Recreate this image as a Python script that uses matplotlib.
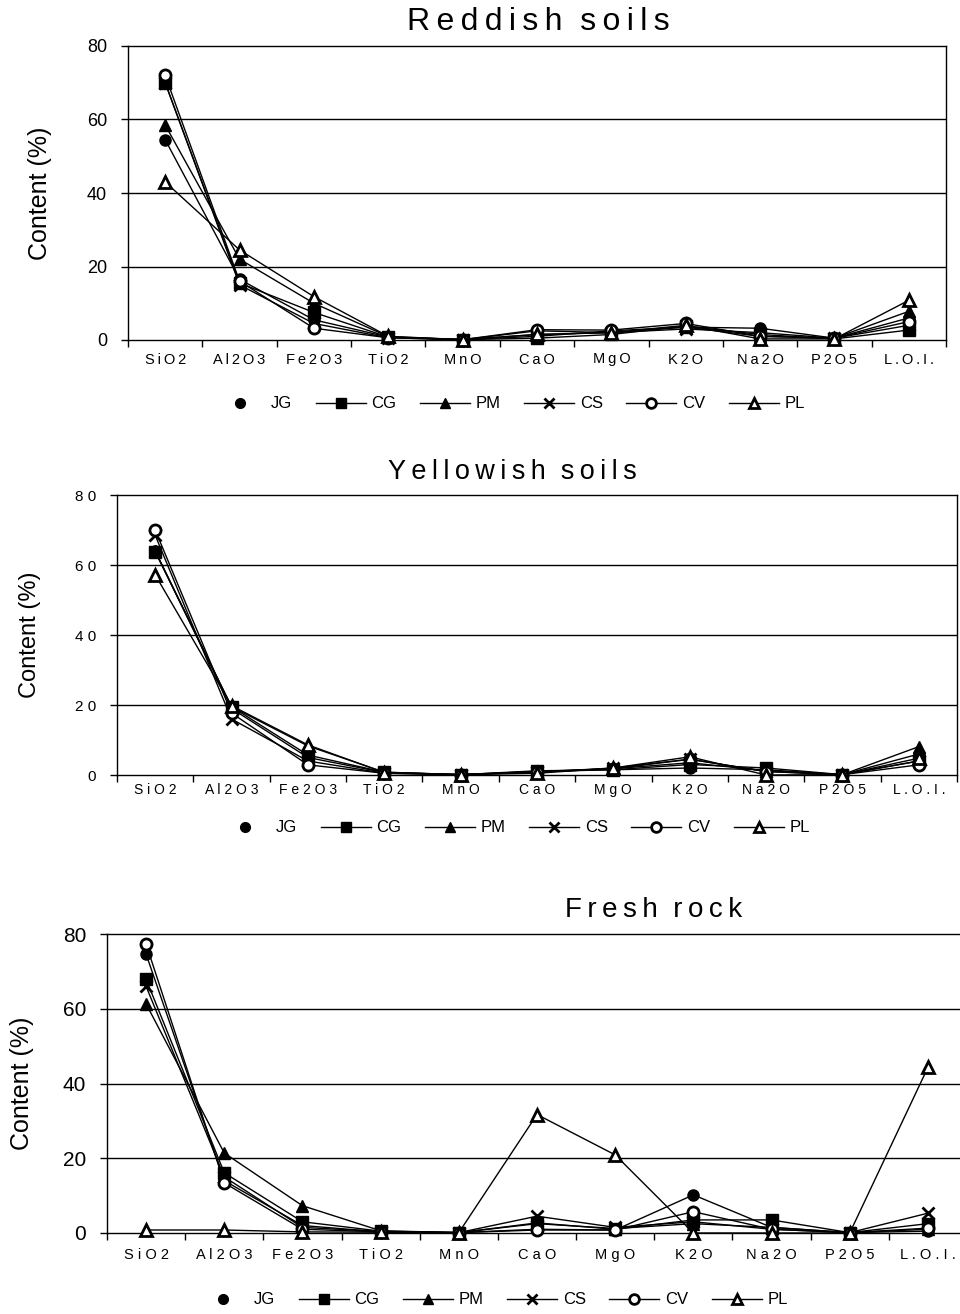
import matplotlib
matplotlib.use("Agg")
import matplotlib.pyplot as plt
from matplotlib.lines import Line2D
import numpy as np

plt.rcParams["font.family"] = ["Liberation Sans", "DejaVu Sans"]

# ---------------------------------------------------------------------------
# Datos (contenido en %)
# ---------------------------------------------------------------------------
oxides = ["SiO2", "Al2O3", "Fe2O3", "TiO2", "MnO", "CaO", "MgO", "K2O",
          "Na2O", "P2O5", "L.O.I."]
sites = ["JG", "CG", "PM", "CS", "CV", "PL"]

# Reddish soils
red_JG = [54.5, 16.5, 5.5, 0.8, 0.1, 2.5, 2.0, 3.5, 3.2, 0.5, 6.0]
red_CG = [70.0, 15.5, 7.5, 0.8, 0.1, 0.5, 1.5, 3.8, 1.5, 0.3, 2.7]
red_PM = [58.5, 22.0, 10.0, 0.9, 0.1, 1.0, 2.5, 3.5, 1.0, 0.5, 7.8]
red_CS = [70.0, 15.0, 4.5, 0.6, 0.1, 1.5, 2.0, 3.0, 2.0, 0.5, 4.0]
red_CV = [72.0, 16.0, 3.2, 0.6, 0.1, 2.8, 2.7, 4.5, 1.0, 0.5, 5.0]
red_PL = [43.0, 24.5, 11.8, 1.0, 0.1, 1.5, 2.0, 4.0, 0.3, 0.3, 10.8]

# Yellowish soils
yel_JG = [64.0, 19.0, 5.0, 0.7, 0.1, 1.0, 1.5, 2.0, 1.5, 0.1, 6.0]
yel_CG = [63.8, 19.5, 5.7, 0.8, 0.1, 1.2, 1.5, 3.0, 2.0, 0.1, 4.0]
yel_PM = [64.0, 19.5, 8.3, 0.8, 0.1, 1.0, 1.8, 3.5, 1.2, 0.1, 8.1]
yel_CS = [68.5, 16.0, 4.0, 0.5, 0.1, 0.8, 2.0, 4.5, 1.0, 0.1, 4.0]
yel_CV = [70.0, 17.7, 2.9, 0.5, 0.1, 0.8, 1.8, 4.5, 1.0, 0.1, 2.9]
yel_PL = [57.2, 19.8, 8.6, 0.7, 0.1, 0.5, 2.0, 5.2, 0.0, 0.1, 4.8]

# Fresh rock
fr_JG = [74.6, 14.0, 2.0, 0.3, 0.1, 1.0, 0.8, 10.2, 1.5, 0.1, 0.5]
fr_CG = [67.9, 16.1, 3.0, 0.5, 0.1, 2.7, 1.0, 3.5, 3.5, 0.1, 2.5]
fr_PM = [61.3, 21.4, 7.3, 0.6, 0.1, 2.5, 1.2, 2.5, 1.5, 0.1, 1.0]
fr_CS = [66.0, 15.0, 1.5, 0.4, 0.1, 4.5, 1.5, 3.0, 1.0, 0.1, 5.3]
fr_CV = [77.3, 13.4, 1.0, 0.3, 0.1, 0.8, 0.8, 5.7, 1.0, 0.1, 1.3]
fr_PL = [0.8, 0.8, 0.3, 0.2, 0.1, 31.7, 20.9, 0.0, 0.0, 0.0, 44.3]

y_ticks = [0, 20, 40, 60, 80]

# estilo de marcador por sitio
MARKERS = {
    "JG": dict(marker="o", mfc="black", mec="black"),
    "CG": dict(marker="s", mfc="black", mec="black"),
    "PM": dict(marker="^", mfc="black", mec="black"),
    "CS": dict(marker="x", mfc="black", mec="black", mew=2),
    "CV": dict(marker="o", mfc="white", mec="black", mew=2),
    "PL": dict(marker="^", mfc="white", mec="black", mew=2),
}

THIN = "\u2009"


def spaced(s, sep=" "):
    return sep.join(s)


def draw_panel(fig, rect, series, title, title_size, title_xy,
               ytl, ytl_size, xtl, xtl_size, xpad,
               ylab_x, ylab_size, legend_xy):
    ax = fig.add_axes(rect)
    x = np.arange(len(oxides))
    for name, vals in zip(sites, series):
        st = MARKERS[name]
        ax.plot(x, vals, color="black", lw=1.0, ms=8, clip_on=False,
                zorder=3, **st)

    ax.set_xlim(-0.5, len(oxides) - 0.5)
    ax.set_ylim(0, 80)
    ax.set_yticks(y_ticks)
    ax.set_yticklabels(ytl, fontsize=ytl_size)
    ax.set_xticks(x)
    ax.set_xticklabels(xtl, fontsize=xtl_size)
    ax.set_xticks(np.arange(len(oxides) + 1) - 0.5, minor=True)
    ax.tick_params(axis="x", which="major", length=0, pad=xpad)
    ax.tick_params(axis="x", which="minor", length=5, direction="out",
                   width=1)
    ax.tick_params(axis="y", length=5, direction="out", width=1, pad=10)
    for yv in y_ticks[1:-1]:
        ax.axhline(yv, color="black", lw=1.0, zorder=1)
    for sp in ax.spines.values():
        sp.set_color("black")
        sp.set_linewidth(1.0)

    fig.text(ylab_x, rect[1] + rect[3] / 2, "Content (%)", rotation=90,
             ha="center", va="center", fontsize=ylab_size)
    fig.text(title_xy[0], title_xy[1], title, ha="center", va="center",
             fontsize=title_size)

    handles = []
    for name in sites:
        st = MARKERS[name]
        ls = "none" if name == "JG" else "-"
        handles.append(Line2D([], [], color="black", lw=1.0, ls=ls, ms=7,
                              **st))
    fig.legend(handles, sites, loc="center", bbox_to_anchor=legend_xy,
               ncol=6, frameon=False, fontsize=12, handlelength=3.0,
               columnspacing=1.4, handletextpad=0.35)
    return ax


fig = plt.figure(figsize=(9.6, 13.14), dpi=100, facecolor="white")
H = 1314.0
W = 960.0

# Panel 1
draw_panel(fig, [128 / W, 1 - 340 / H, (946 - 128) / W, 294 / H],
           [red_JG, red_CG, red_PM, red_CS, red_CV, red_PL],
           spaced("Reddish", THIN) + "  " + spaced("soils", THIN), 23,
           (538 / W, 1 - 22 / H),
           [str(v) for v in y_ticks], 13,
           [spaced(o, THIN) for o in oxides], 10.5, 9,
           40 / W, 18, (510 / W, 1 - 404 / H))

# Panel 2
draw_panel(fig, [117 / W, 1 - 775 / H, (957 - 117) / W, 280 / H],
           [yel_JG, yel_CG, yel_PM, yel_CS, yel_CV, yel_PL],
           spaced("Yellowish", THIN) + "  " + spaced("soils", THIN), 19.5,
           (512 / W, 1 - 472 / H),
           [spaced(str(v)) for v in y_ticks], 11,
           [spaced(o) for o in oxides], 10, 6,
           30 / W, 17, (515 / W, 1 - 828 / H))

# Panel 3
draw_panel(fig, [107 / W, 1 - 1233 / H, (967 - 107) / W, 299 / H],
           [fr_JG, fr_CG, fr_PM, fr_CS, fr_CV, fr_PL],
           spaced("Fresh", THIN) + "  " + spaced("rock", THIN), 20,
           (654 / W, 1 - 910 / H),
           [str(v) for v in y_ticks], 15,
           [spaced(o) for o in oxides], 10.5, 11,
           22 / W, 18, (493 / W, 1 - 1300 / H))

fig.savefig("out.png", dpi=100, facecolor="white")
